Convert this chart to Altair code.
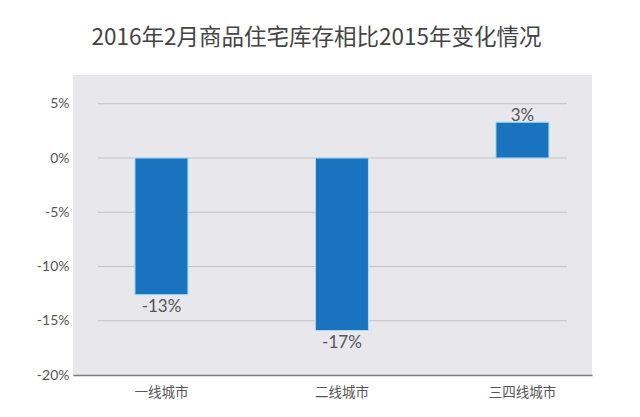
import altair as alt
import pandas as pd

# ---- data ----
categories = ["一线城市", "二线城市", "三四线城市"]
values = [-12.6, -15.9, 3.3]          # bar heights as drawn (%)
value_labels = ["-13%", "-17%", "3%"]  # labels printed on the chart
y_ticks = [-20, -15, -10, -5, 0, 5]
grid_values = [5, 0, -5, -10, -15]

title_text = "2016年2月商品住宅库存相比2015年变化情况"

bars_df = pd.DataFrame({"city": categories, "value": values, "label": value_labels})
grid_df = pd.DataFrame({"g": grid_values})

W, H = 519, 300
y_scale = alt.Scale(domain=[-20, 7.65], nice=False, zero=False)
x_scale = alt.Scale(domain=categories, paddingInner=0.7064, paddingOuter=0.2909, align=0.59)

y_axis = alt.Axis(title=None, values=y_ticks, ticks=False, domain=False, grid=False,
                  labelExpr="datum.value + '%'", labelPadding=4,
                  labelFont="Lato", labelFontSize=14, labelColor="#555555")

grid = alt.Chart(grid_df).mark_rule(color="#c2c2c4", strokeWidth=1.2).encode(
    y=alt.Y("g:Q", scale=y_scale, axis=y_axis),
    x=alt.value(25),
    x2=alt.value(494),
)

bars = alt.Chart(bars_df).mark_bar(color="#1a73be", stroke="#a8dcf2", strokeWidth=1).encode(
    x=alt.X("city:N", scale=x_scale, sort=categories,
            axis=alt.Axis(title=None, ticks=False, labelAngle=0, labelPadding=10,
                          labelFont="Noto Sans CJK SC", labelFontSize=13.5, labelColor="#555555",
                          domainColor="#7a7a7a", domainWidth=1.5)),
    y=alt.Y("value:Q", scale=y_scale),
    y2=alt.datum(0),
)

text_neg = alt.Chart(bars_df).transform_filter("datum.value < 0").mark_text(
    baseline="top", dy=4, font="Lato", fontSize=17, color="#555555"
).encode(
    x=alt.X("city:N", scale=x_scale, sort=categories),
    y=alt.Y("value:Q", scale=y_scale),
    text="label:N",
)

text_pos = alt.Chart(bars_df).transform_filter("datum.value >= 0").mark_text(
    baseline="alphabetic", dy=-1, font="Lato", fontSize=17, color="#555555"
).encode(
    x=alt.X("city:N", scale=x_scale, sort=categories),
    y=alt.Y("value:Q", scale=y_scale),
    text="label:N",
)

chart = alt.layer(grid, bars, text_neg, text_pos).properties(
    width=W, height=H,
    autosize="none",
    padding={"left": 73, "top": 75, "right": 48, "bottom": 42},
    background="white",
    title=alt.TitleParams(title_text, font="Noto Sans CJK SC", fontSize=22.5, fontWeight="normal",
                          color="#444444", anchor="middle", dx=-16, offset=26),
).configure_view(fill="#e8e7eb", stroke=None)

chart.save("out.html", embed_options={"renderer": "svg", "actions": False})
